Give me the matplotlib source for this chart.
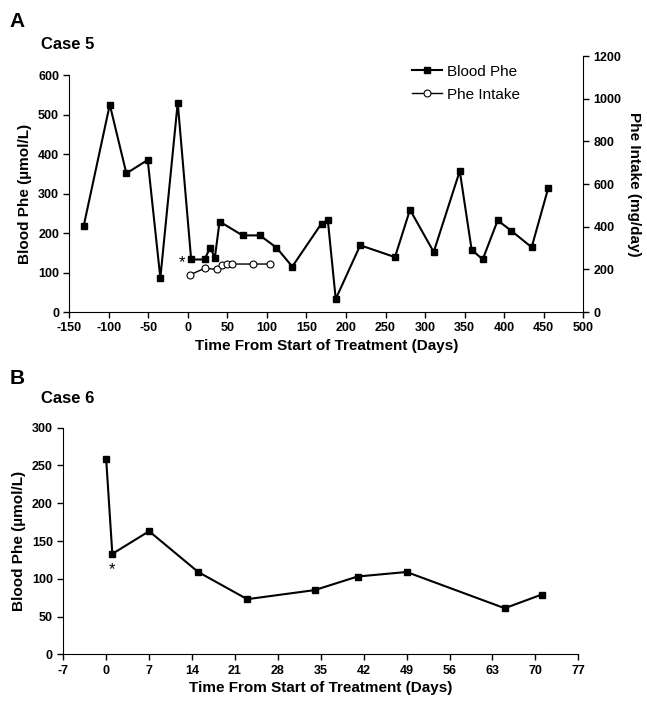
import matplotlib.pyplot as plt

plt.rcParams['font.family'] = ['Liberation Sans', 'DejaVu Sans']
plt.rcParams['axes.unicode_minus'] = False

# Case 5 - blood Phe (umol/L)
days_a = [-132, -99, -78, -51, -35, -13, 4, 21, 28, 34, 40, 69, 91, 112, 132,
          169, 177, 187, 218, 262, 281, 311, 344, 359, 373, 392, 409, 435, 456]
phe_a = [218, 525, 351, 385, 86, 530, 133, 133, 163, 138, 229, 194, 194, 163, 115,
         224, 232, 33, 169, 139, 259, 152, 357, 158, 133, 232, 206, 164, 314]

# Case 5 - Phe intake (mg/day)
days_intake = [3, 21, 37, 43, 50, 56, 82, 104]
intake = [175, 205, 200, 222, 225, 225, 225, 225]

# Case 6 - blood Phe (umol/L)
days_b = [0, 1, 7, 15, 23, 34, 41, 49, 65, 71]
phe_b = [258, 133, 163, 109, 73, 85, 103, 109, 61, 79]

bold = dict(fontweight='bold')

fig = plt.figure(figsize=(6.47, 7.05), dpi=100)

# ---- panel A
ax = fig.add_axes([0.1074, 0.5574, 0.7937, 0.3362])
ax2 = fig.add_axes([0.1074, 0.5574, 0.7937, 0.3631])
ax2.patch.set_visible(False)

l1, = ax.plot(days_a, phe_a, color='black', lw=1.5, marker='s', ms=5,
              markerfacecolor='black', markeredgecolor='black')
l2, = ax2.plot(days_intake, intake, color='black', lw=1.0, marker='o', ms=5,
               markerfacecolor='white', markeredgecolor='black', markeredgewidth=0.8)

ax.set_xlim(-150, 500)
ax.set_ylim(0, 600)
ax.set_xticks(range(-150, 501, 50))
ax.set_yticks(range(0, 601, 100))
ax2.set_xlim(-150, 500)
ax2.set_ylim(0, 1200)
ax2.set_yticks(range(0, 1201, 200))

for s in ['top', 'right']:
    ax.spines[s].set_visible(False)
for s in ['top', 'left', 'bottom']:
    ax2.spines[s].set_visible(False)
ax2.yaxis.tick_right()
ax2.yaxis.set_label_position('right')
ax2.set_xticks([])

ax.tick_params(labelsize=9, length=4, width=1)
ax2.tick_params(labelsize=9, length=4, width=1)
for lab in ax.get_xticklabels() + ax.get_yticklabels() + ax2.get_yticklabels():
    lab.set_fontweight('bold')

ax.set_ylabel('Blood Phe (µmol/L)', fontsize=11, labelpad=4, **bold)
ax2.set_ylabel('Phe Intake (mg/day)', fontsize=11, rotation=270, labelpad=14, **bold)
ax.set_xlabel('Time From Start of Treatment (Days)', fontsize=11, labelpad=3, **bold)

ax.text(-8, 125, '*', fontsize=12, ha='center', va='center')

fig.legend(handles=[l1, l2], labels=['Blood Phe', 'Phe Intake'],
           loc='upper left', bbox_to_anchor=(0.615, 0.928), frameon=False,
           fontsize=11, handlelength=2.0, handletextpad=0.3, labelspacing=0.6)

fig.text(0.015, 0.962, 'A', fontsize=15, **bold)
fig.text(0.063, 0.930, 'Case 5', fontsize=12, **bold)

# ---- panel B
bx = fig.add_axes([0.0978, 0.0719, 0.796, 0.3214])
bx.plot(days_b, phe_b, color='black', lw=1.5, marker='s', ms=5,
        markerfacecolor='black', markeredgecolor='black')
bx.set_xlim(-7, 77)
bx.set_ylim(0, 300)
bx.set_xticks(range(-7, 78, 7))
bx.set_yticks(range(0, 301, 50))
for s in ['top', 'right']:
    bx.spines[s].set_visible(False)
bx.tick_params(labelsize=9, length=4, width=1)
for lab in bx.get_xticklabels() + bx.get_yticklabels():
    lab.set_fontweight('bold')
bx.set_ylabel('Blood Phe (µmol/L)', fontsize=11, labelpad=4, **bold)
bx.set_xlabel('Time From Start of Treatment (Days)', fontsize=11, labelpad=3, **bold)
bx.text(1, 112, '*', fontsize=12, ha='center', va='center')

fig.text(0.015, 0.455, 'B', fontsize=15, **bold)
fig.text(0.063, 0.428, 'Case 6', fontsize=12, **bold)

fig.savefig('out.png', dpi=100)
